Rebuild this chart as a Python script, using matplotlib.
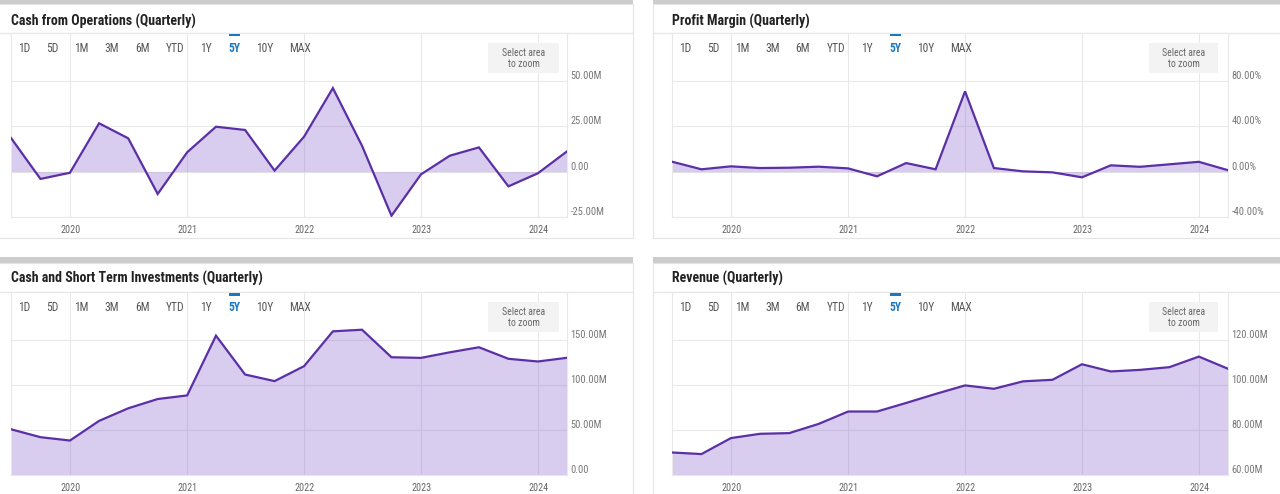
import matplotlib
matplotlib.use("Agg")
import matplotlib.pyplot as plt
import matplotlib.dates as mdates
import pandas as pd
from matplotlib.patches import Rectangle
from matplotlib.transforms import ScaledTranslation
from matplotlib import font_manager

# ---------------- data ----------------
quarter_ends = ["2019-06-30", "2019-09-30", "2019-12-31", "2020-03-31", "2020-06-30",
                "2020-09-30", "2020-12-31", "2021-03-31", "2021-06-30", "2021-09-30",
                "2021-12-31", "2022-03-31", "2022-06-30", "2022-09-30", "2022-12-31",
                "2023-03-31", "2023-06-30", "2023-09-30", "2023-12-31", "2024-03-31"]

cash_from_operations_m = [18.6, -4.0, -0.6, 26.7, 18.4, -12.3, 10.7, 24.8, 23.0, 0.6,
                          19.3, 46.1, 14.3, -24.3, -1.5, 8.8, 13.4, -8.1, -0.9, 11.2]
profit_margin_pct = [8.8, 2.1, 4.7, 3.2, 3.5, 4.4, 2.9, -4.1, 7.6, 2.1,
                     70.9, 3.2, 0.3, -0.6, -5.0, 5.6, 4.3, 6.5, 8.7, 1.3]
cash_st_investments_m = [50.8, 42.0, 38.3, 60.1, 74.1, 84.4, 88.4, 154.8, 111.6, 104.3,
                         120.9, 159.6, 161.4, 130.8, 130.1, 136.3, 141.9, 129.1, 126.1, 130.2]
revenue_m = [70.0, 69.3, 76.4, 78.3, 78.6, 82.7, 88.2, 88.2, 92.0, 96.0,
             99.8, 98.3, 101.6, 102.3, 109.2, 106.0, 106.7, 107.9, 112.6, 107.2]

titles = ["Cash from Operations (Quarterly)", "Profit Margin (Quarterly)",
          "Cash and Short Term Investments (Quarterly)", "Revenue (Quarterly)"]
range_buttons = ["1D", "5D", "1M", "3M", "6M", "YTD", "1Y", "5Y", "10Y", "MAX"]
active_button = "5Y"
yticks_cfo = [-25, 0, 25, 50]
yticks_pm = [-40, 0, 40, 80]
yticks_cash = [0, 50, 100, 150]
yticks_rev = [60, 80, 100, 120]

# ---------------- styling ----------------
W, H = 1280, 494
LINE = "#5b2fa6"
FILL = "#8058cd"
GRID = "#e8e8e8"
avail = {f.name for f in font_manager.fontManager.ttflist}


def pick(*names):
    for n in names:
        if n in avail:
            return n
    return "DejaVu Sans"


COND = pick("Roboto Condensed", "Liberation Sans Narrow", "Roboto")
REG = pick("Roboto", "DejaVu Sans")
plt.rcParams["font.family"] = [REG, "DejaVu Sans"]

dates = pd.to_datetime(quarter_ends)

fig = plt.figure(figsize=(W / 100, H / 100), dpi=100)
fig.patch.set_facecolor("white")

bg = fig.add_axes([0, 0, 1, 1], zorder=-1)
bg.set_xlim(0, W)
bg.set_ylim(H, 0)
bg.axis("off")
fg = fig.add_axes([0, 0, 1, 1], zorder=5)
fg.set_xlim(0, W)
fg.set_ylim(H, 0)
fg.axis("off")
fg.patch.set_alpha(0)

rows = [dict(bar=(0, 4), title=21, sep=33, plot=(33, 217), btn=49, card_bottom=238, box=(43, 73)),
        dict(bar=(257, 263), title=278, sep=292, plot=(292, 475), btn=307, card_bottom=520, box=(302, 332))]
cols = [dict(card=(-5, 633), plot=(11, 567), box=(488, 559)),
        dict(card=(653, 1290), plot=(672, 1228), box=(1149, 1218))]

btn_offsets = [13, 41, 70, 101, 131, 164, 195, 223, 254, 289]


def fmt_m(v):
    return "0.00" if v == 0 else f"{v:.2f}M"


def fmt_pct(v):
    return f"{v:.2f}%"


panels = [
    (0, 0, cash_from_operations_m, yticks_cfo, (-25, 76.5), fmt_m),
    (0, 1, profit_margin_pct, yticks_pm, (-40, 122.4), fmt_pct),
    (1, 0, cash_st_investments_m, yticks_cash, (0, 203.3), fmt_m),
    (1, 1, revenue_m, yticks_rev, (60, 141.3), fmt_m),
]

for idx, (r, c, values, yt, ylim, fmt) in enumerate(panels):
    R, C = rows[r], cols[c]
    cx0, cx1 = C["card"]
    # card
    bg.add_patch(Rectangle((cx0, R["bar"][0]), cx1 - cx0, R["bar"][1] - R["bar"][0],
                           facecolor="#cccccc", edgecolor="none"))
    bg.add_patch(Rectangle((cx0, R["bar"][1]), cx1 - cx0, R["card_bottom"] - R["bar"][1],
                           facecolor="white", edgecolor="#e4e4e4", lw=0.8))
    bg.plot([cx0, cx1], [R["sep"], R["sep"]], color="#e8e8e8", lw=1.0)
    fg.text(C["plot"][0], R["title"], titles[idx], fontsize=10, fontweight="bold",
            color="#222222", family=[COND, "DejaVu Sans"], va="center", ha="left")

    px0, px1 = C["plot"]
    py0, py1 = R["plot"]
    ax = fig.add_axes([px0 / W, 1 - py1 / H, (px1 - px0) / W, (py1 - py0) / H], zorder=1)
    ax.set_facecolor("white")
    ax.fill_between(dates, values, 0, color=FILL, alpha=0.3, lw=0, zorder=2)
    ax.plot(dates, values, color=LINE, lw=1.6, zorder=3, solid_joinstyle="miter")
    ax.set_xlim(dates[0], dates[-1])
    ax.set_ylim(*ylim)
    ax.set_yticks(yt)
    ax.set_yticklabels([fmt(v) for v in yt])
    ax.yaxis.tick_right()
    ax.tick_params(axis="y", length=0, pad=2.5, labelsize=7.5, labelcolor="#777777")
    for lab in ax.get_yticklabels():
        lab.set_transform(lab.get_transform() + ScaledTranslation(0, 6 / 100, fig.dpi_scale_trans))
        lab.set_family([COND, "DejaVu Sans"])
    ax.xaxis.set_major_locator(mdates.YearLocator())
    ax.xaxis.set_major_formatter(mdates.DateFormatter("%Y"))
    ax.tick_params(axis="x", length=0, pad=5.5, labelsize=7.3, labelcolor="#666666")
    for lab in ax.get_xticklabels():
        lab.set_family([COND, "DejaVu Sans"])
    ax.grid(True, color=GRID, lw=0.75, zorder=0)
    ax.set_axisbelow(True)
    for s in ax.spines.values():
        s.set_color(GRID)
        s.set_linewidth(0.8)

    # range buttons
    for name, off in zip(range_buttons, btn_offsets):
        active = name == active_button
        fg.text(px0 + off, R["btn"], name, fontsize=8.3, ha="center", va="center",
                color="#1b78c0" if active else "#555555",
                fontweight="bold" if active else "normal", family=[COND, "DejaVu Sans"])
    ax_off = btn_offsets[range_buttons.index(active_button)]
    fg.add_patch(Rectangle((px0 + ax_off - 5.5, R["sep"] + 1), 11, 2.5,
                           facecolor="#1b78c0", edgecolor="none"))
    # select area box
    bx0, bx1 = C["box"]
    by0, by1 = R["box"]
    fg.add_patch(Rectangle((bx0, by0), bx1 - bx0, by1 - by0, facecolor="#f3f3f3", edgecolor="none"))
    fg.text((bx0 + bx1) / 2, (by0 + by1) / 2 + 0.5, "Select area\nto zoom", fontsize=7,
            ha="center", va="center", color="#666666", linespacing=1.15,
            family=[COND, "DejaVu Sans"])

fig.savefig("out.png", dpi=100, facecolor="white")
